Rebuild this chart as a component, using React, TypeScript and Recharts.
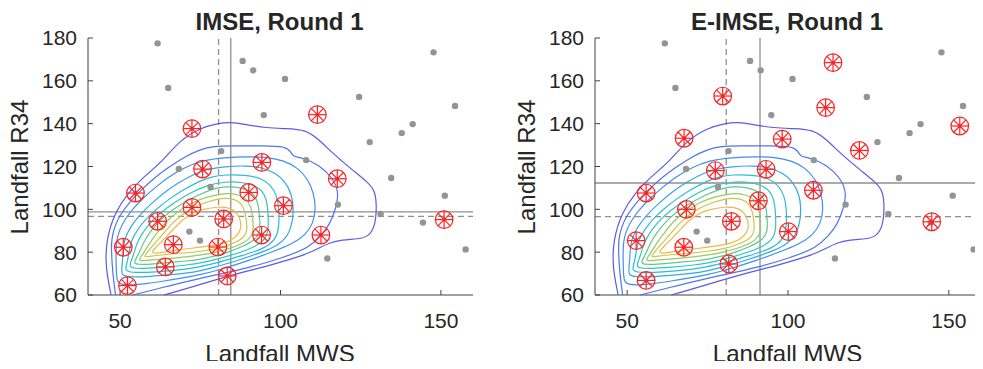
import { ScatterChart, Scatter, XAxis, YAxis, ReferenceLine } from 'recharts';

type Pt = [number, number];

const xTicks = [50, 100, 150];
const yTicks = [60, 80, 100, 120, 140, 160, 180];

// candidate points (same in both panels)
const candidates: Pt[] = [
  [61.7, 177.5], [65.0, 156.7], [88.2, 169.3], [91.5, 164.9], [101.4, 160.9], [94.8, 144.0],
  [124.5, 152.5], [147.7, 173.3], [154.4, 148.3], [141.2, 139.8], [137.8, 135.6], [127.8, 131.4],
  [134.5, 114.6], [108.0, 123.0], [81.5, 127.2], [68.3, 118.8], [78.2, 110.4], [151.2, 106.4],
  [117.9, 102.2], [131.2, 97.8], [144.4, 93.8], [71.6, 89.6], [74.9, 85.4], [114.6, 77.1], [157.7, 81.3],
];

const imseDesign: Pt[] = [
  [72.4, 137.7], [111.5, 144.2], [75.7, 118.8], [94.2, 121.9], [117.7, 114.3], [54.8, 107.6],
  [90.1, 107.9], [72.4, 100.9], [100.9, 101.7], [61.7, 94.4], [82.3, 95.5], [151.0, 95.2],
  [94.1, 88.0], [112.6, 88.0], [51.0, 82.3], [66.6, 83.5], [80.5, 82.4], [64.1, 73.1],
  [83.4, 68.9], [52.3, 64.4],
];

const eimseDesign: Pt[] = [
  [114.0, 168.5], [79.7, 152.9], [111.7, 147.5], [153.4, 138.9], [67.7, 133.2], [98.2, 132.8],
  [122.2, 127.5], [77.4, 118.1], [93.2, 118.7], [55.9, 107.6], [107.9, 108.9], [90.8, 104.0],
  [68.4, 100.0], [82.4, 94.4], [144.7, 94.2], [100.1, 89.6], [52.8, 85.4], [67.6, 82.3],
  [81.6, 74.5], [55.9, 66.8],
];

// reference lines: [solid x, dashed x, solid y, dashed y]
const imseLines = [84.5, 80.7, 98.8, 96.7];
const eimseLines = [91.3, 80.8, 112.3, 96.6];

// density contours, outer to inner
const contour1: Pt[] = [
  [47.2, 60], [45.4, 73.4], [45.7, 85.8], [48.3, 98.3], [52.4, 107.6], [57.5, 115.4], [62.7, 121.6],
  [68.8, 132.5], [75.0, 138.0], [80.1, 140.0], [84.3, 140.8], [89.4, 139.5], [95.6, 138.0],
  [101.7, 137.7], [107.9, 137.2], [112.0, 132.5], [116.2, 126.3], [122.3, 118.5], [127.5, 112.3],
  [129.5, 108.4], [130.0, 101.4], [129.5, 92.1], [127.5, 87.4], [124.4, 86.1], [119.2, 85.8],
  [115.1, 84.3], [112.0, 81.9], [109.0, 79.6], [102.8, 76.5], [95.6, 73.4], [87.3, 70.3],
  [80.1, 67.2], [72.9, 64.0], [67.8, 61.7], [63.7, 60],
];
const contour2: Pt[] = [
  [48.6, 60], [47.7, 70], [47.3, 80], [47.3, 86], [48.3, 92], [50, 97.5], [53, 103.5], [56.5, 109],
  [60.5, 114.5], [65, 119.5], [70, 124.5], [75, 128], [79.1, 129.5], [85, 129.6], [95, 129.7],
  [101.7, 129.4], [103.3, 126.7], [103.8, 124.7], [106.9, 124], [112, 120.9], [116.2, 114.8],
  [118.2, 108.4], [117.4, 100.8], [115.3, 92.8], [112.8, 88], [109, 82.1], [100.7, 77.4],
  [90.4, 72.8], [80.1, 69.5], [70.9, 66.4], [62.7, 63.3], [57.5, 61.3], [54, 60],
];
const contour3: Pt[] = [
  [49, 66], [48.8, 72], [48.7, 79], [48.8, 85], [49.8, 90.5], [51.6, 95.5], [54, 100.3], [57.2, 105.3],
  [61, 110.3], [65, 115], [70, 119.5], [75.5, 122.8], [82.7, 124.2], [90, 124.6], [96, 124.4],
  [101, 122.8], [105.5, 119.3], [108.6, 114], [110.4, 107.5], [111, 100], [110.2, 93.5], [107.8, 88],
  [103.6, 83.8], [97.8, 80.3], [90, 76], [80, 71.3], [75, 69.5], [70.9, 68.3], [64, 66.6], [58, 65.2],
  [53, 64.6], [50.3, 65],
];
const contour4: Pt[] = [
  [50.2, 69], [50.7, 74], [50.9, 80], [51.2, 85], [52.4, 89.5], [54.3, 94], [56.8, 98.5], [60, 103],
  [63.5, 107.5], [67.5, 111.8], [72.5, 116], [77, 118.8], [82.7, 120], [89, 120.4], [94, 119.7],
  [98.2, 117.2], [101.5, 113], [103.5, 107], [104.1, 100.5], [103.7, 93.5], [102.3, 87.5], [99.3, 83.2],
  [94, 79.8], [87, 76.3], [80, 73.1], [75, 71.3], [70.9, 70.2], [64, 69.2], [58, 68.5], [53, 68.4],
];
const contour5: Pt[] = [
  [51.3, 71.2], [52.3, 75.5], [52.8, 80], [53.3, 84.5], [54.6, 88.5], [56.5, 92.8], [59, 97], [62, 101],
  [65.5, 105], [69.5, 109], [74.5, 113], [78.5, 115.3], [82.7, 116.2], [89, 116.1], [93.8, 114.7],
  [97, 111.3], [98.9, 106.3], [99.5, 100.5], [99.6, 93.5], [99, 87.5], [96.7, 83.3], [92.2, 80.3],
  [86, 77.5], [80, 74.9], [74, 72.9], [70.9, 72.1], [64, 71.1], [58, 70.5], [54, 70.5],
];
const contour6: Pt[] = [
  [52.6, 73], [53.8, 77], [54.6, 81], [55.4, 84.8], [56.8, 88.5], [58.7, 92.5], [61.2, 96.5],
  [64.2, 100.3], [67.8, 104], [72, 107.8], [77, 111.2], [82.7, 113], [88.5, 112.7], [92.8, 110.7],
  [95.2, 107], [96, 101.5], [96.2, 95.5], [96.2, 90], [95.3, 86.2], [92.5, 82.7], [87, 79.6],
  [80, 76.6], [75.5, 75], [70.9, 74], [64.5, 73.1], [58.5, 72.4], [55, 72.4],
];
const contour7: Pt[] = [
  [54, 74.6], [55.5, 78.3], [56.5, 81.8], [57.5, 85], [59, 88.6], [61, 92.5], [63.5, 96.4], [66.5, 100],
  [70, 103.3], [74.5, 106.8], [79, 109.6], [82.7, 110.7], [87.5, 110.3], [91, 108.2], [92.8, 104.5],
  [93.3, 99.5], [93.6, 94], [93.6, 89.5], [92.2, 85.8], [88.3, 82.6], [83, 79.6], [80, 78.3],
  [75, 76.6], [70.9, 75.9], [65, 75.1], [59, 74.3], [56, 74.3],
];
const contour8: Pt[] = [
  [55.6, 76.2], [57.3, 79.5], [58.5, 82.5], [59.8, 85.5], [61.5, 89], [63.5, 92.8], [66, 96.6],
  [69, 100], [72.5, 103.2], [77, 105.8], [82.7, 107.6], [86.6, 107.1], [89.5, 104.9], [90.8, 101.2],
  [91.3, 96.5], [91.6, 91.5], [91.2, 87.6], [89, 84.6], [85.5, 82.3], [80, 80], [75, 78.6],
  [70.9, 77.8], [65, 77], [59.5, 76.3], [57, 76],
];
const contour9: Pt[] = [
  [57.3, 77.8], [59, 81], [60.8, 84], [62.5, 87], [64.5, 90.5], [66.8, 94.3], [69.5, 97.8],
  [72.8, 100.8], [76.5, 103.2], [80, 104.7], [82.7, 105.3], [85.7, 104.8], [88, 102.6], [89, 98.8],
  [89.4, 94.5], [89.6, 90.5], [89, 87.6], [87, 85.2], [84, 83.3], [80, 81.6], [75, 80.3],
  [70.9, 79.7], [66, 79.2], [61, 78.4], [58.5, 77.8],
];
const contour10: Pt[] = [
  [59.4, 79.6], [61.5, 82.8], [64, 86.5], [66.5, 90.5], [69, 94.5], [72, 98], [75.5, 100],
  [80.5, 101.2], [83.2, 101], [85.8, 99.5], [87.2, 96.5], [87.9, 92.5], [87.2, 89], [85.3, 86.1],
  [82.5, 84.3], [80.1, 83.4], [76, 82.5], [72.9, 81.9], [66.8, 80.9], [61.6, 79.4],
];

const contours = [contour1, contour2, contour3, contour4, contour5, contour6, contour7, contour8, contour9, contour10];
const contourColors = [
  '#5b5be6', '#4f74ee', '#3f8ff0', '#33a7e8', '#2bbcda',
  '#2fc6bc', '#5bc98f', '#94cb65', '#cbc647', '#efb944',
];

const font = "'Liberation Sans', Arial, Helvetica, sans-serif";
const textColor = '#262626';
const refColor = '#8f8f8f';

const toObjs = (pts: Pt[]) => pts.map(([x, y]) => ({ x, y }));

const NoDot = () => <g />;

const GrayDot = (props: any) => <circle cx={props.cx} cy={props.cy} r={3.2} fill="#949494" />;

const DesignMarker = (props: any) => {
  const { cx, cy } = props;
  const r = 8.8;
  const d = r * Math.SQRT1_2;
  return (
    <g stroke="#ff2222" strokeWidth={1.2} fill="none">
      <circle cx={cx} cy={cy} r={r} />
      <line x1={cx - r} y1={cy} x2={cx + r} y2={cy} />
      <line x1={cx} y1={cy - r} x2={cx} y2={cy + r} />
      <line x1={cx - d} y1={cy - d} x2={cx + d} y2={cy + d} />
      <line x1={cx - d} y1={cy + d} x2={cx + d} y2={cy - d} />
      <circle cx={cx} cy={cy} r={2} fill="#ff2222" stroke="none" />
    </g>
  );
};

interface PanelProps {
  title: string;
  design: Pt[];
  lines: number[];
  left: number;
  width: number;
  plotLeft: number;
  plotRight: number;
}

function Panel({ title, design, lines, left, width, plotLeft, plotRight }: PanelProps) {
  const centerX = (plotLeft + plotRight) / 2 - 0.5;
  return (
    <div style={{ position: 'absolute', left, top: 0, width, height: 369 }}>
      <ScatterChart width={width} height={369} margin={{ top: 38, right: width - plotRight, bottom: 44, left: 0 }}>
        <XAxis
          type="number"
          dataKey="x"
          domain={[40, 160]}
          ticks={xTicks}
          height={30}
          tickSize={-5}
          tickMargin={23}
          stroke="#404040"
          tick={{ fill: textColor, fontSize: 21, fontFamily: font }}
        />
        <YAxis
          type="number"
          dataKey="y"
          domain={[60, 180]}
          ticks={yTicks}
          width={plotLeft}
          tickSize={-5}
          tickMargin={16}
          stroke="#404040"
          tick={{ fill: textColor, fontSize: 21, fontFamily: font }}
        />
        {contours.map((c, i) => (
          <Scatter
            key={`c${i}`}
            data={toObjs(c)}
            fill="none"
            line={{ stroke: contourColors[i], strokeWidth: 1.2 }}
            lineJointType={i < 2 ? 'basis' : 'basisClosed'}
            shape={NoDot}
            isAnimationActive={false}
          />
        ))}
        <ReferenceLine x={lines[0]} stroke={refColor} strokeWidth={1.3} />
        <ReferenceLine x={lines[1]} stroke={refColor} strokeWidth={1.3} strokeDasharray="6 4" />
        <ReferenceLine y={lines[2]} stroke={refColor} strokeWidth={1.3} />
        <ReferenceLine y={lines[3]} stroke={refColor} strokeWidth={1.3} strokeDasharray="6 4" />
        <Scatter data={toObjs(candidates)} shape={GrayDot} isAnimationActive={false} />
        <Scatter data={toObjs(design)} shape={DesignMarker} isAnimationActive={false} />
      </ScatterChart>
      <svg
        width={width}
        height={369}
        style={{ position: 'absolute', left: 0, top: 0, pointerEvents: 'none' }}
        fontFamily={font}
        fill={textColor}
      >
        <text x={centerX - 0.5} y={30} textAnchor="middle" fontWeight="bold" fontSize={24}>
          {title}
        </text>
        <text x={centerX} y={362} textAnchor="middle" fontSize={24}>
          Landfall MWS
        </text>
        <text transform={`translate(${plotLeft - 60},167) rotate(-90)`} textAnchor="middle" fontSize={24}>
          Landfall R34
        </text>
      </svg>
    </div>
  );
}

export default function App() {
  return (
    <div style={{ position: 'relative', width: 983, height: 369, margin: -8, background: '#fff' }}>
      <Panel title="IMSE, Round 1" design={imseDesign} lines={imseLines} left={0} width={490} plotLeft={88} plotRight={473} />
      <Panel title="E-IMSE, Round 1" design={eimseDesign} lines={eimseLines} left={490} width={493} plotLeft={105} plotRight={491} />
    </div>
  );
}
